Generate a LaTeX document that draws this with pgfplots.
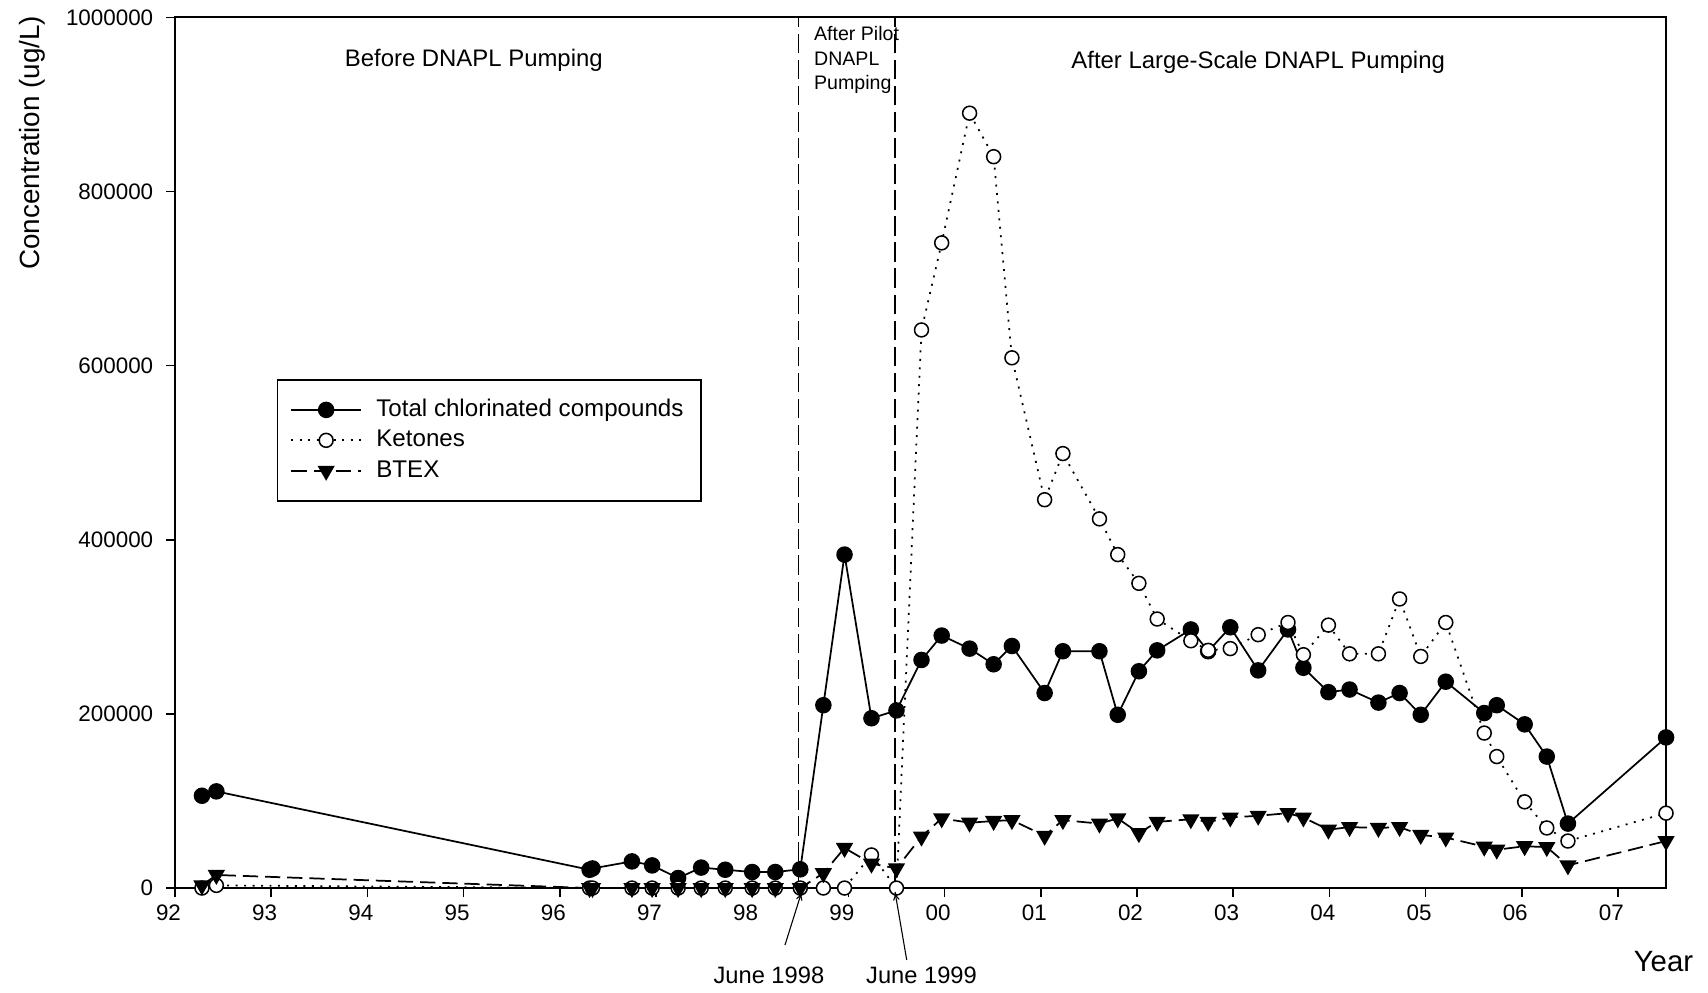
\documentclass[border=0pt]{standalone}
\usepackage{fontspec}
\setmainfont{Liberation Sans}
\usepackage{pgfplots}
\usepackage{pgfplotstable}
\pgfplotsset{compat=1.18}
\usetikzlibrary{arrows.meta}

\pgfplotstableread{
x y
92.28 106000
92.43 111000
96.31 21000
96.34 22500
96.75 30600
96.96 26000
97.23 11500
97.47 23500
97.72 21000
98.00 18400
98.24 18400
98.50 21500
98.74 210000
98.96 383000
99.24 195000
99.50 204000
99.76 262000
99.97 290000
100.26 275000
100.51 257000
100.70 278000
101.04 224000
101.23 272000
101.61 272000
101.80 199000
102.02 249000
102.21 273000
102.56 297000
102.74 272000
102.97 299500
103.26 250000
103.57 297000
103.73 253000
103.99 225000
104.21 228000
104.51 213000
104.73 224000
104.95 199000
105.21 237000
105.61 201000
105.74 210000
106.03 188000
106.26 151000
106.48 74000
107.50 173000
}\chlor

\pgfplotstableread{
x y
92.28 0
92.43 3000
96.31 0
96.34 0
96.75 0
96.96 0
97.23 0
97.47 0
97.72 0
98.00 0
98.24 0
98.50 0
98.74 0
98.96 0
99.24 38000
99.50 0
99.76 641000
99.97 741000
100.26 890000
100.51 840000
100.70 609000
101.04 446000
101.23 499000
101.61 424000
101.80 383000
102.02 350000
102.21 309000
102.56 284000
102.74 273000
102.97 275000
103.26 291000
103.57 305000
103.73 268000
103.99 302000
104.21 269000
104.51 269000
104.73 332000
104.95 266000
105.21 305000
105.61 178000
105.74 151000
106.03 99000
106.26 69000
106.48 54000
107.50 86000
}\ketones

\pgfplotstableread{
x y
92.28 3000
92.43 15000
96.31 0
96.34 0
96.75 0
96.96 0
97.23 0
97.47 0
97.72 0
98.00 0
98.24 0
98.50 0
98.74 17000
98.96 46000
99.24 28000
99.50 22600
99.76 59000
99.97 80000
100.26 75000
100.51 77000
100.70 78000
101.04 60000
101.23 78000
101.61 74000
101.80 80000
102.02 63000
102.21 76000
102.56 79000
102.74 76000
102.97 81000
103.26 83000
103.57 86000
103.73 81000
103.99 67000
104.21 70000
104.51 69000
104.73 70000
104.95 61000
105.21 58000
105.61 47500
105.74 44000
106.03 48000
106.26 47000
106.48 26000
107.50 54000
}\btex

\begin{document}
\begin{tikzpicture}
\path[use as bounding box] (-80.5pt,-47.84pt) rectangle (705.2pt,408.5pt);
\begin{axis}[
  at={(0pt,0pt)}, anchor=south west,
  scale only axis, width=685.9pt, height=400.5pt,
  xmin=92, xmax=107.5, ymin=0, ymax=1000000,
  axis line style={line width=0.9pt},
  xtick={92,...,107},
  xticklabels={92,93,94,95,96,97,98,99,00,01,02,03,04,05,06,07},
  ytick={0,200000,400000,600000,800000,1000000},
  yticklabels={0,200000,400000,600000,800000,1000000},
  xtick pos=bottom, ytick pos=left, tick align=outside,
  major tick length=4pt,
  tick style={line width=0.7pt, black},
  ticklabel style={font=\fontsize{10.3}{12}\selectfont},
  xticklabel style={xshift=-3pt},
  yticklabel style={xshift=-2.5pt, inner ysep=0pt},
  clip=false,
  legend style={at={(rel axis cs:0.0682,0.5845)}, anchor=north west,
    draw=black, line width=0.7pt, font=\fontsize{11.1}{13}\selectfont,
    inner xsep=6pt, inner ysep=6.8pt, row sep=0pt, column sep=4.7pt,
    nodes={inner xsep=2pt, inner ysep=2pt, text height=8pt, text depth=2pt}},
  legend cell align=left,
  legend image code/.code={\draw[mark repeat=2,mark phase=2] plot coordinates {(0pt,0pt) (16pt,0pt) (32pt,0pt)};},
]
\draw[line width=0.6pt, dash pattern=on 9pt off 3pt] (axis cs:98.48,0) -- (axis cs:98.48,1000000);
\draw[line width=0.6pt, dash pattern=on 9pt off 3pt] (axis cs:99.485,0) -- (axis cs:99.485,1000000);

\addplot[black, line width=0.8pt, mark=*, mark size=3.4pt, mark options={solid, fill=black}] table[x=x,y=y] {\chlor};
\addplot[black, line width=0.8pt, dash pattern=on 0.9pt off 3pt, mark=*, mark size=3.2pt, mark options={solid, fill=white, line width=0.7pt}] table[x=x,y=y] {\ketones};
\addplot[black, line width=0.8pt, dash pattern=on 7pt off 3.2pt, mark=triangle*, mark size=3.8pt, mark options={solid, rotate=180, fill=black}] table[x=x,y=y] {\btex};
\legend{Total chlorinated compounds, Ketones, BTEX}

\node[font=\fontsize{11}{13}\selectfont] at (axis cs:95.106,951000) {Before DNAPL Pumping};
\node[font=\fontsize{11}{13}\selectfont] at (axis cs:103.26,948600) {After Large-Scale DNAPL Pumping};
\node[anchor=north west, inner sep=0pt, align=left, font=\fontsize{9}{11.3}\selectfont] at (axis cs:98.64,990000) {After Pilot\\DNAPL\\Pumping};
\end{axis}
\node[rotate=90, font=\fontsize{12.8}{15}\selectfont] at (-65.5pt,342.8pt) {Concentration (ug/L)};
\node[font=\fontsize{13.5}{16}\selectfont] at (684.7pt,-33.9pt) {Year};
\node[font=\fontsize{10.9}{13}\selectfont] at (273.2pt,-40pt) {June 1998};
\node[font=\fontsize{10.9}{13}\selectfont] at (343.4pt,-40pt) {June 1999};
\draw[line width=0.5pt, -{To[length=4pt,width=3pt]}] (280.6pt,-26.2pt) -- (288.3pt,-1.7pt);
\draw[line width=0.5pt, -{To[length=4pt,width=3pt]}] (336.6pt,-33.1pt) -- (331.2pt,-1.7pt);
\end{tikzpicture}
\end{document}
